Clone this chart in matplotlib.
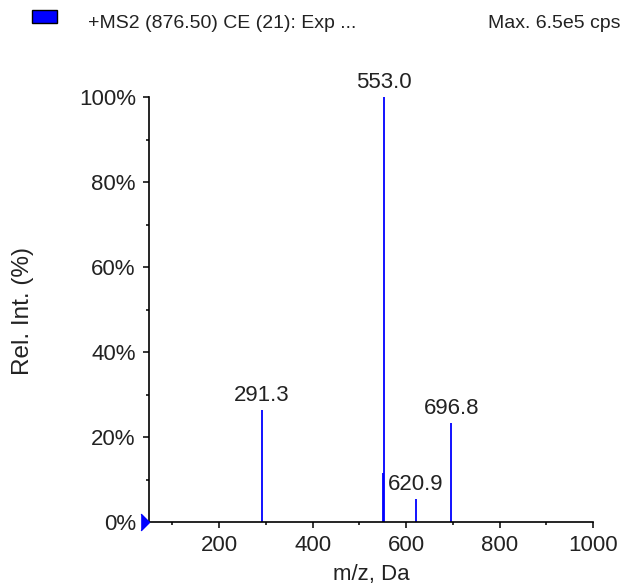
import matplotlib.pyplot as plt
import numpy as np

plt.rcParams['font.family'] = ['Liberation Sans', 'DejaVu Sans']

# peaks (m/z, relative intensity %)
mz = [291.3, 551.3, 553.0, 620.9, 696.8]
rel_int = [26.4, 11.5, 100.0, 5.4, 23.3]
labelled = [291.3, 553.0, 620.9, 696.8]

x_ticks = [200, 400, 600, 800, 1000]
y_ticks = [0, 20, 40, 60, 80, 100]

fig = plt.figure(figsize=(6.22, 5.88), dpi=100)
ax = fig.add_axes([149 / 622, 1 - 522 / 588, 444 / 622, 425 / 588])

ax.vlines(mz, 0, rel_int, colors='#0000ff', linewidth=1.3)

for m in labelled:
    h = rel_int[mz.index(m)]
    ax.annotate(f'{m:.1f}', (m, h), xytext=(0, 3), textcoords='offset points',
                ha='center', va='bottom', fontsize=16, color='#222222')

ax.set_xlim(50, 1000)
ax.set_ylim(0, 100)
ax.set_xticks(x_ticks)
ax.set_xticks(np.arange(100, 1000, 100), minor=True)
ax.set_yticks(y_ticks)
ax.set_yticklabels([f'{v}%' for v in y_ticks])
ax.set_yticks(np.arange(10, 100, 20), minor=True)
ax.tick_params(axis='both', which='major', length=4.5, width=1.1, labelsize=16,
               labelcolor='#222222')
ax.tick_params(axis='both', which='minor', length=2.5, width=1.1)
ax.tick_params(axis='x', pad=5)
ax.tick_params(axis='y', pad=5)

for side in ['top', 'right']:
    ax.spines[side].set_visible(False)
ax.spines['left'].set_linewidth(1.2)
ax.spines['bottom'].set_linewidth(1.2)

ax.set_xlabel('m/z, Da', fontsize=16, color='#222222')
ax.xaxis.set_label_coords(0.5, -0.098)
ax.set_ylabel('Rel. Int. (%)', fontsize=17.5, color='#222222')
ax.yaxis.set_label_coords(-0.258, 0.496)

# little blue arrow at the origin
ax.plot([50], [0], marker=[(-1, -1), (0, 0), (-1, 1)], color='#0000ff',
        markersize=12, clip_on=False, zorder=5)

# header line
fig.patches.append(plt.Rectangle((32 / 622, 1 - 23 / 588), 25 / 622, 13 / 588,
                                 transform=fig.transFigure, facecolor='#0000ff',
                                 edgecolor='black', linewidth=1))
fig.text(88 / 622, 1 - 23 / 588, '+MS2 (876.50) CE (21): Exp ...', fontsize=14,
         va='center', color='#222222')
fig.text(620 / 622, 1 - 23 / 588, 'Max. 6.5e5 cps', fontsize=14, va='center',
         ha='right', color='#222222')

fig.savefig('out.png', dpi=100)
